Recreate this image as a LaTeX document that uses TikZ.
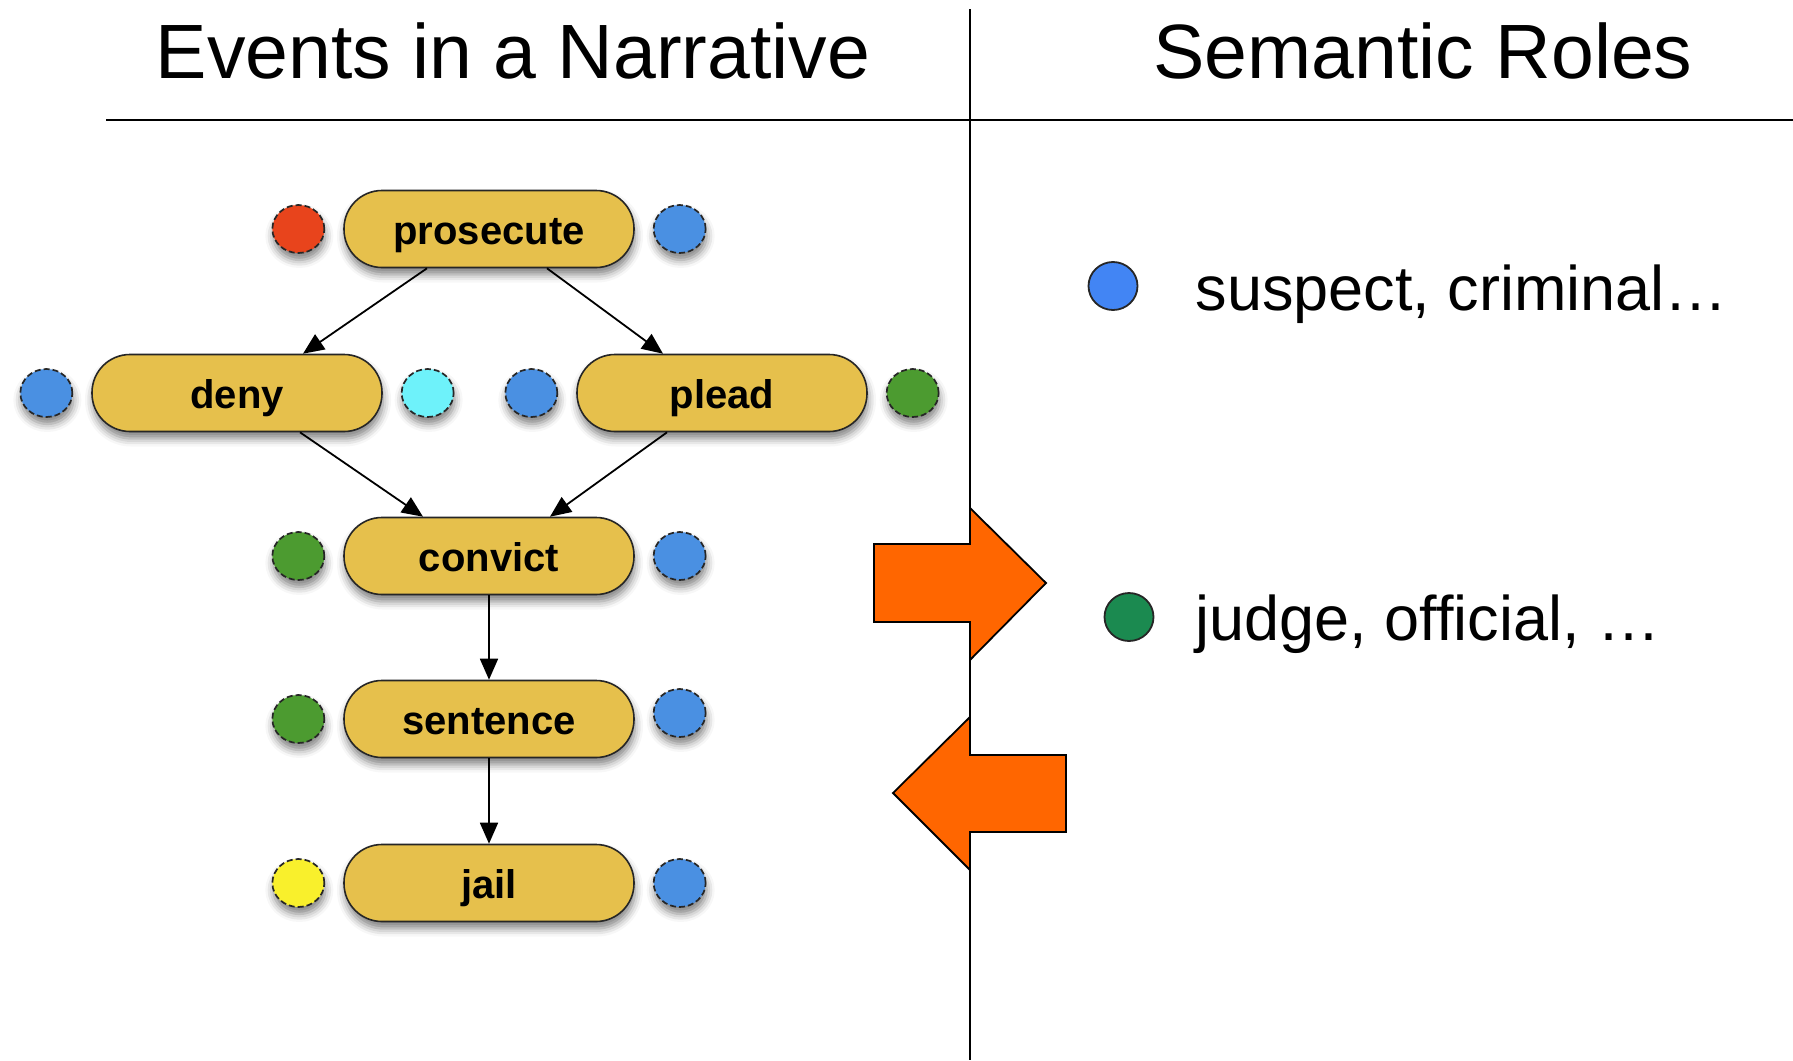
\documentclass[tikz,border=0pt]{standalone}
\usepackage{fontspec}
\setmainfont{Liberation Sans}
\usetikzlibrary{arrows.meta,positioning,shapes.geometric,shadows.blur}

\definecolor{eventfill}{HTML}{E6C04C}
\definecolor{slotred}{HTML}{E8441C}
\definecolor{slotblue}{HTML}{4A90E2}
\definecolor{slotcyan}{HTML}{6EF2FA}
\definecolor{slotgreen}{HTML}{4C9B30}
\definecolor{slotyellow}{HTML}{F9F02C}
\definecolor{roleblue}{HTML}{4285F4}
\definecolor{rolegreen}{HTML}{1B8A50}
\definecolor{swap}{HTML}{FF6600}

\tikzset{
  soft/.style={blur shadow={shadow xshift=1pt, shadow yshift=-7pt,
      shadow blur radius=8pt, shadow opacity=50}},
  event/.style={draw=black!85, line width=1.6pt, fill=eventfill,
    rounded corners=38pt, minimum width=290pt, minimum height=77pt,
    inner sep=0pt, text height=31pt, text depth=0pt,
    font=\fontsize{40}{48}\selectfont\bfseries, soft},
  slot/.style={ellipse, draw=black!85, line width=1.7pt,
    dash pattern=on 6pt off 3pt, fill=#1, minimum width=52pt,
    minimum height=48pt, inner sep=0pt, soft},
  flow/.style={-{Triangle[length=21pt,width=18pt]}, line width=1.8pt},
  role/.style={ellipse, draw=black!85, line width=1.8pt, fill=#1,
    minimum width=49pt, minimum height=48pt, inner sep=0pt},
  title/.style={font=\fontsize{77}{90}\selectfont, anchor=base},
  roletext/.style={font=\fontsize{63}{74}\selectfont, anchor=base west}
}

\begin{document}
\begin{tikzpicture}[x=1pt,y=1pt]
    \useasboundingbox (0,0) rectangle (1793,-1060);

    % headings and frame
    \node[title] (events) at (513,-78) {Events in a Narrative};
    \node[title] (roles) at (1423,-78) {Semantic Roles};
    \draw[line width=2pt] (106,-120) -- (1793,-120);
    \draw[line width=2pt] (970,-9) -- (970,-1060);

    % event chain
    \node[event] (prosecute) at (489,-229) {prosecute};
    \node[event] (deny) at (237,-393) {deny};
    \node[event] (plead) at (722,-393) {plead};
    \node[event] (convict) at (489,-556) {convict};
    \node[event] (sentence) at (489,-719) {sentence};
    \node[event] (jail) at (489,-883) {jail};

    % argument slots
    \node[slot=slotred, left=18pt of prosecute] (prosecuteL) {};
    \node[slot=slotblue, right=18pt of prosecute] (prosecuteR) {};
    \node[slot=slotblue, left=18pt of deny] (denyL) {};
    \node[slot=slotcyan, right=18pt of deny] (denyR) {};
    \node[slot=slotblue, left=18pt of plead] (pleadL) {};
    \node[slot=slotgreen, right=18pt of plead] (pleadR) {};
    \node[slot=slotgreen, left=18pt of convict] (convictL) {};
    \node[slot=slotblue, right=18pt of convict] (convictR) {};
    \node[slot=slotgreen, left=18pt of sentence] (sentenceL) {};
    \node[slot=slotblue, right=18pt of sentence, yshift=6pt] (sentenceR) {};
    \node[slot=slotyellow, left=18pt of jail] (jailL) {};
    \node[slot=slotblue, right=18pt of jail] (jailR) {};

    \draw[flow] ([xshift=-62pt]prosecute.south) -- ([xshift=66pt]deny.north);
    \draw[flow] ([xshift=58pt]prosecute.south) -- ([xshift=-59pt]plead.north);
    \draw[flow] ([xshift=63pt]deny.south) -- ([xshift=-66pt]convict.north);
    \draw[flow] ([xshift=-55pt]plead.south) -- ([xshift=61pt]convict.north);
    \draw[flow] (convict) -- (sentence);
    \draw[flow] (sentence) -- (jail);

    % exchange arrows across the divider
    \draw[line width=1.8pt, fill=swap] (874,-544) -- (970,-544) -- (970,-508)
      -- (1046,-583) -- (970,-660) -- (970,-622) -- (874,-622) -- cycle;
    \draw[line width=1.8pt, fill=swap] (1066,-755) -- (970,-755) -- (970,-717)
      -- (893,-793) -- (970,-870) -- (970,-832) -- (1066,-832) -- cycle;

    % role legend
    \node[role=roleblue] (suspectdot) at (1113,-286) {};
    \node[roletext] (suspect) at (1192,-310) {suspect, criminal…};
    \node[role=rolegreen] (judgedot) at (1129,-617) {};
    \node[roletext] (judge) at (1192,-640) {judge, official, …};
\end{tikzpicture}
\end{document}
